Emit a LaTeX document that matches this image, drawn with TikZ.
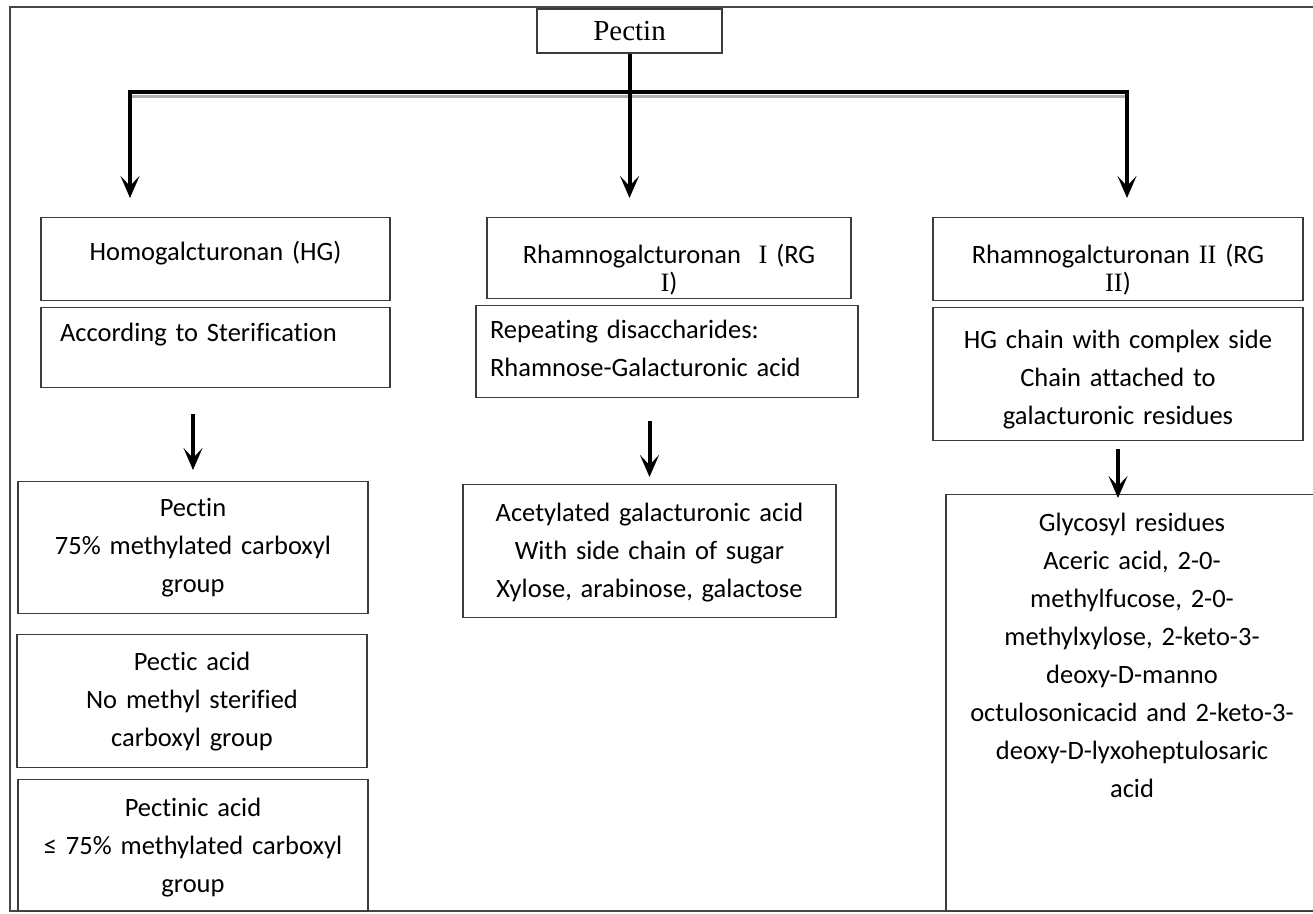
\documentclass[tikz,border=0pt]{standalone}
\usepackage{fontspec}
\setmainfont{Carlito}[Ligatures={NoCommon}]
\newfontfamily\numfont{Liberation Serif}
\usepackage{xcolor}
\usepackage{tikz}
\usetikzlibrary{arrows.meta, positioning}
\definecolor{boxborder}{RGB}{60, 60, 60}
\definecolor{framecolor}{RGB}{70, 70, 70}
\definecolor{shadowgray}{RGB}{175, 175, 175}
\tikzstyle{box} = [rectangle, draw=boxborder, line width=1.3pt, anchor=north, inner xsep=5pt, inner ysep=0pt,
                   align=center, font=\fontsize{26.5}{38}\selectfont]
\tikzstyle{leftbox} = [box, align=left]
\tikzstyle{topbox} = [rectangle, draw=boxborder, line width=1.3pt, font=\numfont\fontsize{29}{32}\selectfont]
\tikzstyle{arrow} = [-{Stealth[length=22pt, width=19pt, inset=10pt]}, line width=4pt]

\begin{document}
\begin{tikzpicture}[x=1pt, y=-1pt]
    \useasboundingbox (0,0) rectangle (1313,913);
    \draw[framecolor, line width=2pt] (1320,7) -- (10,7) -- (10,911) -- (1320,911);

    % Root
    \node[topbox, minimum width=185, minimum height=44] (pectin) at (629.5,31) {Pectin};
    \coordinate (jL) at (130,92);
    \coordinate (jR) at (1127,92);
    \coordinate (eL) at (130,198);
    \coordinate (eR) at (1127,198);

    % Homogalcturonan branch
    \node[box, text width=339, text height=43, text depth=40] (hg) at (215.5,217) {Homogalcturonan (HG)};
    \node[leftbox, inner xsep=19pt, text width=311, text height=34, text depth=46] (steri) at (215.5,307) {According to Sterification};
    \node[box, text width=340, text height=35, text depth=97] (pec) at (193,481) {Pectin\\75\% methylated carboxyl\\group};
    \node[box, text width=340, text height=36, text depth=97] (pectic) at (192,634) {Pectic acid\\No methyl sterified\\carboxyl group};
    \node[box, text width=340, text height=37, text depth=95] (pectinic) at (193,779) {Pectinic acid\\≤ 75\% methylated carboxyl\\group};

    % Rhamnogalcturonan I branch
    \node[box, text width=354, text height=46, text depth=35] (rgone) at (669,217) {Rhamnogalcturonan\ \ {\numfont I} (RG\\[-10pt]{\numfont I})};
    \node[leftbox, inner xsep=14pt, text width=354, text height=33, text depth=59] (repeat) at (667,305) {Repeating disaccharides:\\Rhamnose-Galacturonic acid};
    \node[box, text width=363, text height=37, text depth=96] (acetyl) at (649.5,484) {Acetylated galacturonic acid\\With side chain of sugar\\Xylose, arabinose, galactose};

    % Rhamnogalcturonan II branch
    \node[box, text width=360, text height=46, text depth=37] (rgtwo) at (1118,217) {Rhamnogalcturonan {\numfont II} (RG\\[-10pt]{\numfont II})};
    \node[box, text width=360, text height=41, text depth=92] (chain) at (1118,307) {HG chain with complex side\\Chain attached to\\galacturonic residues};
    \node[box, text width=362, text height=37, text depth=380] (glycosyl) at (1132,494) {Glycosyl residues\\Aceric acid, 2-0-\\methylfucose, 2-0-\\methylxylose, 2-keto-3-\\deoxy-D-manno\\octulosonicacid and 2-keto-3-\\deoxy-D-lyxoheptulosaric\\acid};

    % Arrows
    \draw[shadowgray, line width=3.5pt] ([yshift=-4.5pt]jL) -- ([yshift=-4.5pt]jR);
    \draw[arrow] (jR) -- (jL) -- (eL);
    \draw[arrow, line cap=rect] (jR) -- (eR);
    \draw[arrow] (pectin.south) -- (pectin.south |- eL);
    \draw[arrow, shorten <=26pt, shorten >=11pt] (steri.south -| pec.north) -- (pec.north);
    \draw[arrow, shorten <=23pt, shorten >=7pt] (repeat.south -| acetyl.north) -- (acetyl.north);
    \draw[arrow, shorten <=8pt, shorten >=-4pt] (chain.south) -- (chain.south |- glycosyl.north);
\end{tikzpicture}
\end{document}
